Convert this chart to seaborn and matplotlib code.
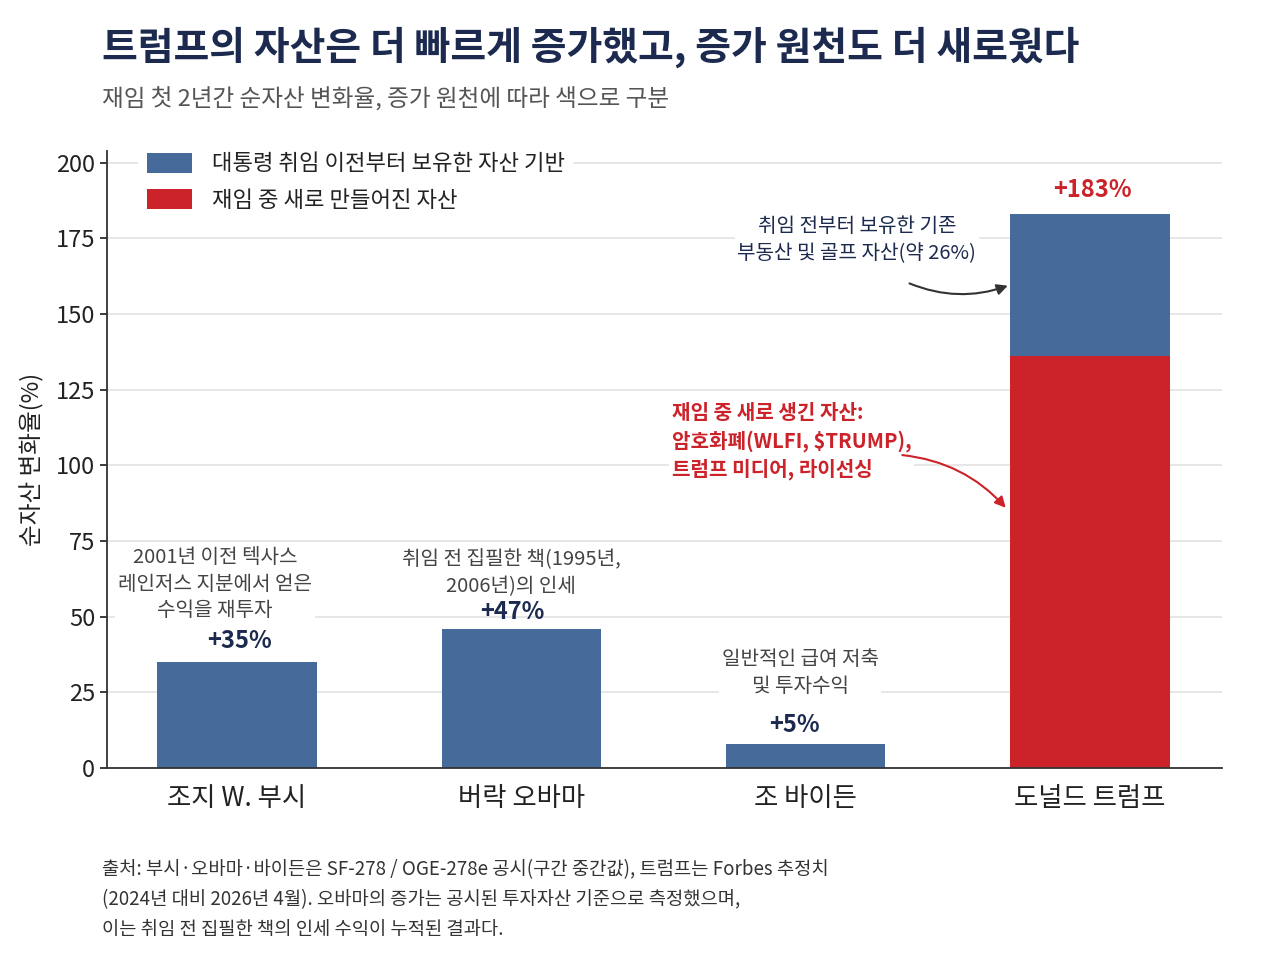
import matplotlib
matplotlib.use("Agg")
import matplotlib.pyplot as plt
import seaborn as sns
import pandas as pd

# data
presidents = ["조지 W. 부시", "버락 오바마", "조 바이든", "도널드 트럼프"]
base_assets = [35, 46, 8, 47]   # blue: assets held before office
new_assets = [0, 0, 0, 136]     # red: assets created while in office
value_labels = ["+35%", "+47%", "+5%", "+183%"]
notes = ["2001년 이전 텍사스\n레인저스 지분에서 얻은\n수익을 재투자",
         "취임 전 집필한 책(1995년,\n2006년)의 인세",
         "일반적인 급여 저축\n및 투자수익",
         ""]

BLUE = "#466b9b"
RED = "#cc2229"
NAVY = "#1b2a4e"
GRAY = "#444444"

sns.set_theme(style="whitegrid")
plt.rcParams['font.family'] = ['Noto Sans CJK KR', 'DejaVu Sans']

df = pd.DataFrame({"president": presidents,
                   "base": base_assets,
                   "new": new_assets})
df["total"] = df["base"] + df["new"]

fig = plt.figure(figsize=(12.8, 9.6), dpi=100)
ax = fig.add_axes([0.0836, 0.2, 0.8711, 0.643])

sns.barplot(data=df, x="president", y="total", color=BLUE, width=0.56,
            saturation=1, linewidth=0, ax=ax,
            label="대통령 취임 이전부터 보유한 자산 기반")
sns.barplot(data=df, x="president", y="new", color=RED, width=0.56,
            saturation=1, linewidth=0, ax=ax,
            label="재임 중 새로 만들어진 자산")

ax.set_xlim(-0.457, 3.464)
ax.set_ylim(0, 204)
ax.set_yticks([0, 25, 50, 75, 100, 125, 150, 175, 200])
ax.tick_params(axis="y", labelsize=17, colors="#222222", length=5, left=True)
ax.tick_params(axis="x", labelsize=19, colors="#222222", length=0, pad=12)
ax.set_xlabel("")
ax.set_ylabel("순자산 변화율(%)", fontsize=17, color="#222222", labelpad=8)
ax.grid(axis="y", color="#e3e3e3", linewidth=1.2)
ax.grid(axis="x", visible=False)
ax.set_axisbelow(True)
for s in ["top", "right"]:
    ax.spines[s].set_visible(False)
for s in ["left", "bottom"]:
    ax.spines[s].set_color("#333333")
    ax.spines[s].set_linewidth(1.3)

# value labels
lbl_x = [0.01, -0.03, -0.04, 0.01]
lbl_y = [42, 51.6, 14.2, 191]
for i, lab in enumerate(value_labels):
    col = RED if i == 3 else NAVY
    ax.text(i + lbl_x[i], lbl_y[i], lab, ha="center", va="center", fontsize=17,
            fontweight="bold", color=col)

# notes above the smaller bars
note_pos = [(-0.077, 60.8), (0.964, 64.5), (1.98, 31.4)]
for (nx, ny), txt in zip(note_pos, notes[:3]):
    ax.text(nx, ny, txt, ha="center", va="center", fontsize=14.5,
            color=GRAY, style="italic", linespacing=1.35,
            bbox=dict(facecolor="white", edgecolor="none", pad=2))

# Trump annotations
ax.text(2.18, 174.5, "취임 전부터 보유한 기존\n부동산 및 골프 자산(약 26%)",
        ha="center", va="center", fontsize=14.5, color=NAVY, linespacing=1.35,
        bbox=dict(facecolor="white", edgecolor="none", pad=2))
ax.annotate("", xy=(2.72, 159.7), xytext=(2.356, 160.5),
            arrowprops=dict(arrowstyle="-|>", color="#333333", lw=1.5,
                            connectionstyle="arc3,rad=0.2", mutation_scale=16))
ax.text(1.53, 108.1, "재임 중 새로 생긴 자산:\n암호화폐(WLFI, $TRUMP),\n트럼프 미디어, 라이선싱",
        ha="left", va="center", fontsize=14.5, color=RED, fontweight="bold",
        linespacing=1.4, bbox=dict(facecolor="white", edgecolor="none", pad=2))
ax.annotate("", xy=(2.71, 85.3), xytext=(2.33, 103.5),
            arrowprops=dict(arrowstyle="-|>", color=RED, lw=1.5,
                            connectionstyle="arc3,rad=-0.2", mutation_scale=16))

leg = ax.legend(loc="upper left", bbox_to_anchor=(0.018, 1.03), fontsize=16,
                frameon=True, facecolor="white", edgecolor="none", framealpha=1,
                handlelength=2.0, handleheight=1.0, handletextpad=0.9,
                labelspacing=0.6)
for t in leg.get_texts():
    t.set_color("#222222")

fig.text(0.08, 0.951, "트럼프의 자산은 더 빠르게 증가했고, 증가 원천도 더 새로웠다",
         fontsize=28, fontweight="bold", color=NAVY, va="center")
fig.text(0.08, 0.896, "재임 첫 2년간 순자산 변화율, 증가 원천에 따라 색으로 구분",
         fontsize=17, color="#555555", style="italic", va="center")
fig.text(0.08, 0.063,
         "출처: 부시·오바마·바이든은 SF-278 / OGE-278e 공시(구간 중간값), 트럼프는 Forbes 추정치\n"
         "(2024년 대비 2026년 4월). 오바마의 증가는 공시된 투자자산 기준으로 측정했으며,\n"
         "이는 취임 전 집필한 책의 인세 수익이 누적된 결과다.",
         fontsize=13.5, color="#333333", va="center", linespacing=1.55)

fig.savefig("out.png", dpi=100, facecolor="white")
